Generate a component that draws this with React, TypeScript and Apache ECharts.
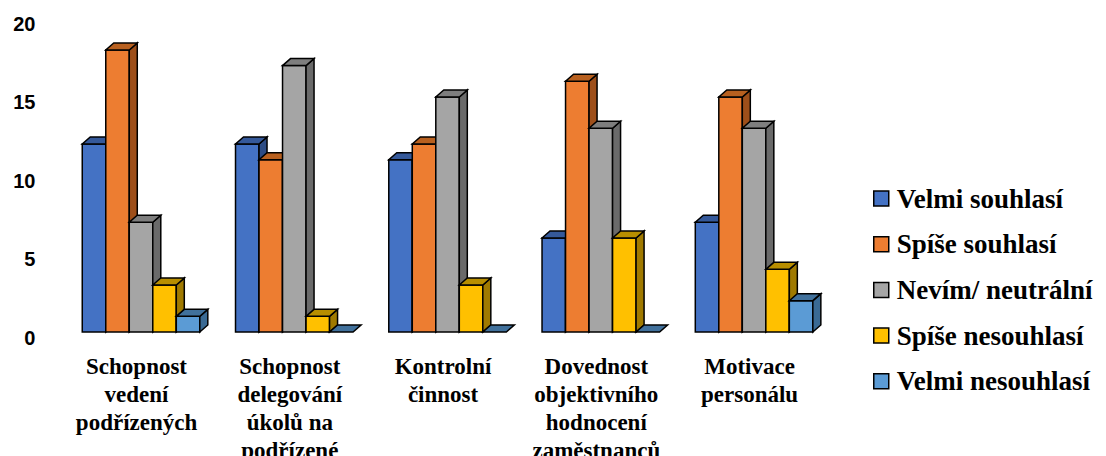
import React, { useEffect, useRef } from "react";
import * as echarts from "echarts";

const categories = [
  "Schopnost\nvedení\npodřízených",
  "Schopnost\ndelegování\núkolů na\npodřízené",
  "Kontrolní\nčinnost",
  "Dovednost\nobjektivního\nhodnocení\nzaměstnanců",
  "Motivace\npersonálu",
];
const seriesNames = [
  "Velmi souhlasí",
  "Spíše souhlasí",
  "Nevím/ neutrální",
  "Spíše nesouhlasí",
  "Velmi nesouhlasí",
];
const velmiSouhlasi = [12, 12, 11, 6, 7];
const spiseSouhlasi = [18, 11, 12, 16, 15];
const nevim = [7, 17, 15, 13, 13];
const spiseNesouhlasi = [3, 1, 3, 6, 4];
const velmiNesouhlasi = [1, 0, 0, 0, 2];
const seriesValues = [velmiSouhlasi, spiseSouhlasi, nevim, spiseNesouhlasi, velmiNesouhlasi];
const yTicks = { min: 0, max: 20, interval: 5 };

const frontColors = ["#4472C4", "#ED7D31", "#A5A5A5", "#FFC000", "#5B9BD5"];
const topColors = ["#35599A", "#B8601F", "#7E7E7E", "#B88E00", "#41719C"];
const sideColors = ["#2D4C85", "#9E4F1A", "#6A6A6A", "#A07A00", "#3A6A94"];

const SERIF = "'Liberation Serif', 'Times New Roman', serif";
const SANS = "'Liberation Sans', Arial, sans-serif";
const GROUP_RATIO = 0.767;
const DX = 8;
const DY = 7;
const STROKE = "#000";
const LW = 1.5;

export default function App() {
  const ref = useRef<HTMLDivElement>(null);
  useEffect(() => {
    document.body.style.margin = "0";
    if (!ref.current) return;
    const chart = echarts.init(ref.current, null, { renderer: "svg" });
    const nSeries = seriesValues.length;
    const series = seriesValues.map((vals, s) => ({
      type: "custom",
      name: seriesNames[s],
      xAxisIndex: 0,
      yAxisIndex: 0,
      itemStyle: { color: frontColors[s], borderColor: STROKE, borderWidth: LW },
      data: vals.map((v, i) => [i, v]),
      renderItem: (params: any, api: any) => {
        const cat = api.value(0);
        const val = api.value(1);
        const base = api.coord([cat, 0]);
        const top = api.coord([cat, val]);
        const catW = api.size([1, 0])[0];
        const groupW = catW * GROUP_RATIO;
        const barW = groupW / nSeries;
        const x0 = base[0] - groupW / 2 + s * barW;
        const x1 = x0 + barW;
        const yb = base[1];
        const yt = top[1];
        const h = yb - yt;
        const children: any[] = [];
        const st = { stroke: STROKE, lineWidth: LW, lineJoin: "miter" };
        if (h > 0.5) {
          children.push({
            type: "rect",
            shape: { x: x0, y: yt, width: barW, height: h },
            style: { fill: frontColors[s], ...st },
          });
          children.push({
            type: "polygon",
            shape: {
              points: [
                [x1, yb],
                [x1 + DX, yb - DY],
                [x1 + DX, yt - DY],
                [x1, yt],
              ],
            },
            style: { fill: sideColors[s], ...st },
          });
        }
        children.push({
          type: "polygon",
          shape: {
            points: [
              [x0, yt],
              [x1, yt],
              [x1 + DX, yt - DY],
              [x0 + DX, yt - DY],
            ],
          },
          style: { fill: topColors[s], ...st },
        });
        return { type: "group", children };
      },
    }));
    chart.setOption({
      animation: false,
      grid: [
        { left: 64.4, right: 275.3, top: 18.6, bottom: 124, containLabel: false, outerBoundsMode: "none" },
        { left: 64.4, right: 275.3, top: 24.1, bottom: 118.5, containLabel: false, outerBoundsMode: "none" },
      ],
      legend: {
        orient: "vertical",
        left: 868,
        top: 180,
        itemWidth: 15,
        itemHeight: 15,
        itemGap: 18.7,
        icon: "rect",
        data: seriesNames.map((n, s) => ({
          name: n,
          itemStyle: { color: frontColors[s], borderColor: STROKE, borderWidth: 1.5 },
        })),
        textStyle: {
          fontFamily: SERIF,
          fontWeight: "bold",
          fontSize: 27,
          color: "#000",
          padding: [0, 0, 0, 3],
        },
      },
      xAxis: [
        {
          type: "category",
          gridIndex: 0,
          data: categories,
          axisLine: { show: false },
          axisTick: { show: false },
          splitLine: { show: false },
          axisLabel: {
            interval: 0,
            margin: 20,
            fontFamily: SERIF,
            fontWeight: "bold",
            fontSize: 23,
            lineHeight: 28,
            color: "#000",
            padding: [0, 9, 0, 0],
          },
        },
        {
          type: "category",
          gridIndex: 1,
          data: categories,
          show: false,
        },
      ],
      yAxis: [
        {
          type: "value",
          gridIndex: 0,
          min: yTicks.min,
          max: yTicks.max,
          interval: yTicks.interval,
          axisLine: { show: false },
          axisTick: { show: false },
          splitLine: { show: false },
          axisLabel: { show: false },
        },
        {
          type: "value",
          gridIndex: 1,
          min: yTicks.min,
          max: yTicks.max,
          interval: yTicks.interval,
          axisLine: { show: false },
          axisTick: { show: false },
          splitLine: { show: false },
          axisLabel: {
            margin: 29,
            fontFamily: SANS,
            fontWeight: "bold",
            fontSize: 20,
            color: "#000",
          },
        },
      ],
      series,
    });
    return () => chart.dispose();
  }, []);
  return <div ref={ref} style={{ width: 1106, height: 456 }} />;
}
